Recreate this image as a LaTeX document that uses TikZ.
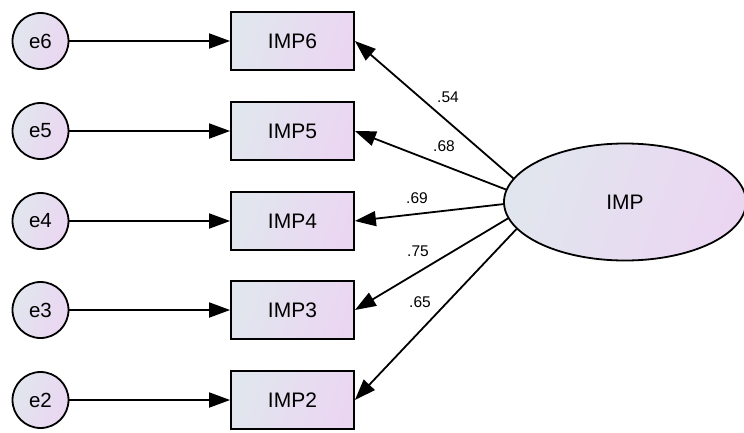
\documentclass[tikz,border=0pt]{standalone}
\usepackage{fontspec}
\setmainfont{Liberation Sans}
\usetikzlibrary{arrows.meta,shapes.geometric}
\definecolor{shadeL}{RGB}{225,230,238}
\definecolor{shadeR}{RGB}{235,214,242}
\tikzset{
  x=1pt, y=-1pt,
  base/.style={draw=black, line width=1.8pt, inner sep=0pt, left color=shadeL, right color=shadeR, shading angle=70},
  errnode/.style={base, circle, minimum size=56pt, font=\fontsize{20.5}{20.5}\selectfont},
  obsnode/.style={base, rectangle, minimum width=123pt, minimum height=58pt, font=\fontsize{21}{21}\selectfont},
  latnode/.style={base, ellipse, minimum width=242pt, minimum height=117pt, font=\fontsize{21}{21}\selectfont},
  loading/.style={line width=1.8pt, -{Triangle[length=21pt,width=15pt]}},
  wt/.style={font=\fontsize{15.5}{15.5}\selectfont, inner sep=0pt}
}
\begin{document}
\begin{tikzpicture}
\useasboundingbox (0,0) rectangle (744,432);
\begin{scope}
\clip (0,0) rectangle (744,432);
% latent factor
\node[latnode] (IMP) at (625,202) {IMP};
% indicators and their error terms
\foreach \k/\y in {6/41, 5/131, 4/221, 3/310, 2/400} {
  \node[errnode] (e\k) at (40.5,\y) {e\k};
  \node[obsnode] (IMP\k) at (292.5,\y) {IMP\k};
  \draw[loading] (e\k) -- (IMP\k);
}
\end{scope}
% loadings
\draw[loading] (IMP.168) -- (IMP6.east);
\draw[loading] (IMP.174) -- (IMP5.east);
\draw[loading] (IMP.181) -- (IMP4.east);
\draw[loading] (IMP.188) -- (IMP3.east);
\draw[loading] (IMP.194.5) -- (IMP2.east);
\node[wt] (w6) at (448,97) {.54};
\node[wt] (w5) at (444,146) {.68};
\node[wt] (w4) at (417,198) {.69};
\node[wt] (w3) at (418,251) {.75};
\node[wt] (w2) at (420,302) {.65};
\end{tikzpicture}
\end{document}
